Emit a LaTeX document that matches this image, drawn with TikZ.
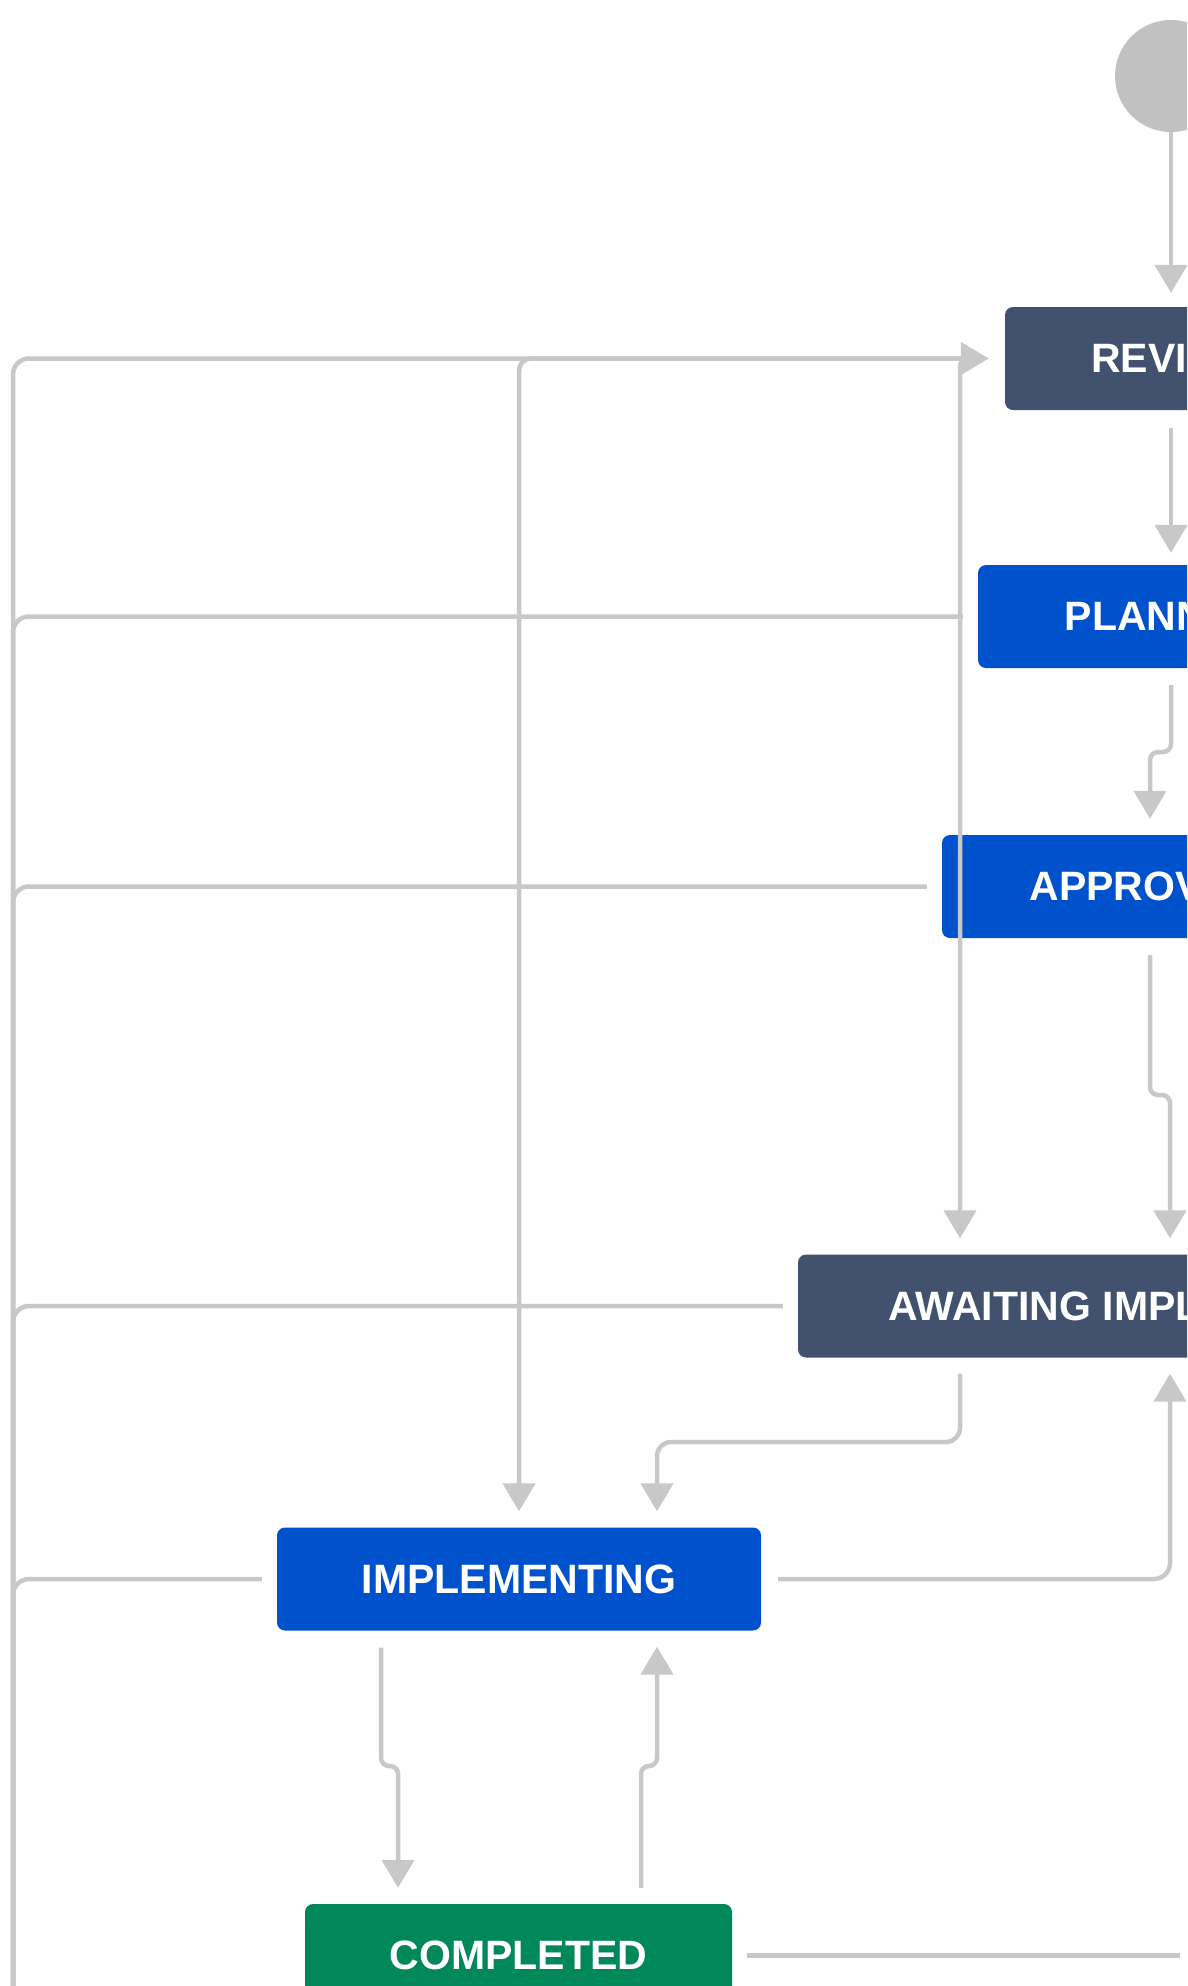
\documentclass[tikz,border=0pt]{standalone}
\usepackage{fontspec}
\setmainfont{Liberation Sans}
\usetikzlibrary{arrows.meta}
\definecolor{wfLine}{HTML}{C8C8C8}
\definecolor{wfDot}{HTML}{C1C1C1}
\definecolor{wfSlate}{HTML}{42526E}
\definecolor{wfBlue}{HTML}{0052CC}
\definecolor{wfGreen}{HTML}{00875A}
\providecommand{\wfLineWidth}{4.5pt}
\providecommand{\wfGap}{16pt}
\tikzset{
  wfstate/.style={rounded corners=8pt, minimum height=103pt, inner sep=0pt,
    text=white, font=\fontsize{41}{49}\selectfont\bfseries},
  wfline/.style={draw=wfLine, line width=\wfLineWidth, rounded corners=16pt},
  wfarrow/.style={wfline, -{Triangle[width=32pt,length=28pt]}, shorten >=\wfGap},
  wfjog/.style={rounded corners=8pt},
}
\begin{document}
\begin{tikzpicture}[x=1pt, y=-1pt, line join=round]
% Page frame (pixels of the exported workflow view)
\fill[white] (0,0) rectangle (1187,1986);
\useasboundingbox (0,0) rectangle (1187,1986);
\clip (0,0) rectangle (1187,1986);
% States
\node[circle, fill=wfDot, minimum size=112pt, inner sep=0pt] (start) at (1171,76) {};
\node[wfstate, fill=wfSlate, minimum width=334pt] (review) at (1172,358.5) {REVIEW};
\node[wfstate, fill=wfBlue, minimum width=388pt] (planning) at (1172,616.5) {PLANNING};
\node[wfstate, fill=wfBlue, minimum width=400pt] (approval) at (1142,886.5) {APPROVAL};
\node[wfstate, fill=wfSlate, minimum width=758pt] (awaiting) at (1177,1306) {AWAITING IMPLEMENTATION};
\node[wfstate, fill=wfBlue, minimum width=484pt] (implementing) at (519,1579) {IMPLEMENTING};
\node[wfstate, fill=wfGreen, minimum width=427pt] (completed) at (518.5,1955.5) {COMPLETED};
% Bends and free ends
\coordinate (trunk) at (13,2010);
\coordinate (rightcol) at (1171,0);
\coordinate (revfork) at (960,360);
\coordinate (jogA) at (1150,752);
\coordinate (jogB) at (1170,1095);
\coordinate (implin) at (657,1442);
\coordinate (dnA) at (381,1766);
\coordinate (dnB) at (398,1766);
\coordinate (upA) at (641,1766);
\coordinate (upB) at (657,1766);
\coordinate (cright) at (1180,1956);
% Transitions down the right column
\draw[wfarrow, shorten >=14pt] (start.south) -- (start.south |- review.north);
\draw[wfarrow, shorten <=18pt, shorten >=12pt] (rightcol |- review.south) -- (rightcol |- planning.north);
\draw[wfarrow, wfjog, shorten <=17pt] (rightcol |- planning.south) |- (jogA) -- (jogA |- approval.north);
\draw[wfarrow, wfjog, shorten <=17pt] (jogA |- approval.south) |- (jogB) -- (jogB |- awaiting.north);
% Transitions out of REVIEW on its left
\draw[wfarrow, wfjog] ([xshift=-22pt]review.west) -| (revfork |- awaiting.north);
\draw[wfarrow, rounded corners=12pt] ([xshift=-22pt]review.west) -| (implementing.north);
% Everything back to REVIEW along the left trunk
\draw[wfarrow] (trunk) |- (review.west);
\foreach \s in {planning,approval,awaiting,implementing}
  \draw[wfline] ([xshift=-15pt]\s.west) -| (trunk);
% Lower states
\draw[wfarrow, rounded corners=14pt, shorten <=16pt] (revfork |- awaiting.south) |- (implin) -- (implin |- implementing.north);
\draw[wfarrow, shorten <=17pt] (implementing.east) -| (jogB |- awaiting.south);
\draw[wfarrow, wfjog, shorten <=17pt] (dnA |- implementing.south) -- (dnA) -- (dnB) -- (dnB |- completed.north);
\draw[wfarrow, wfjog, shorten <=16pt] (upA |- completed.north) -- (upA) -- (upB) -- (upB |- implementing.south);
\draw[wfline] ([xshift=15pt]completed.east) -- (completed.east -| cright);
\end{tikzpicture}
\end{document}
